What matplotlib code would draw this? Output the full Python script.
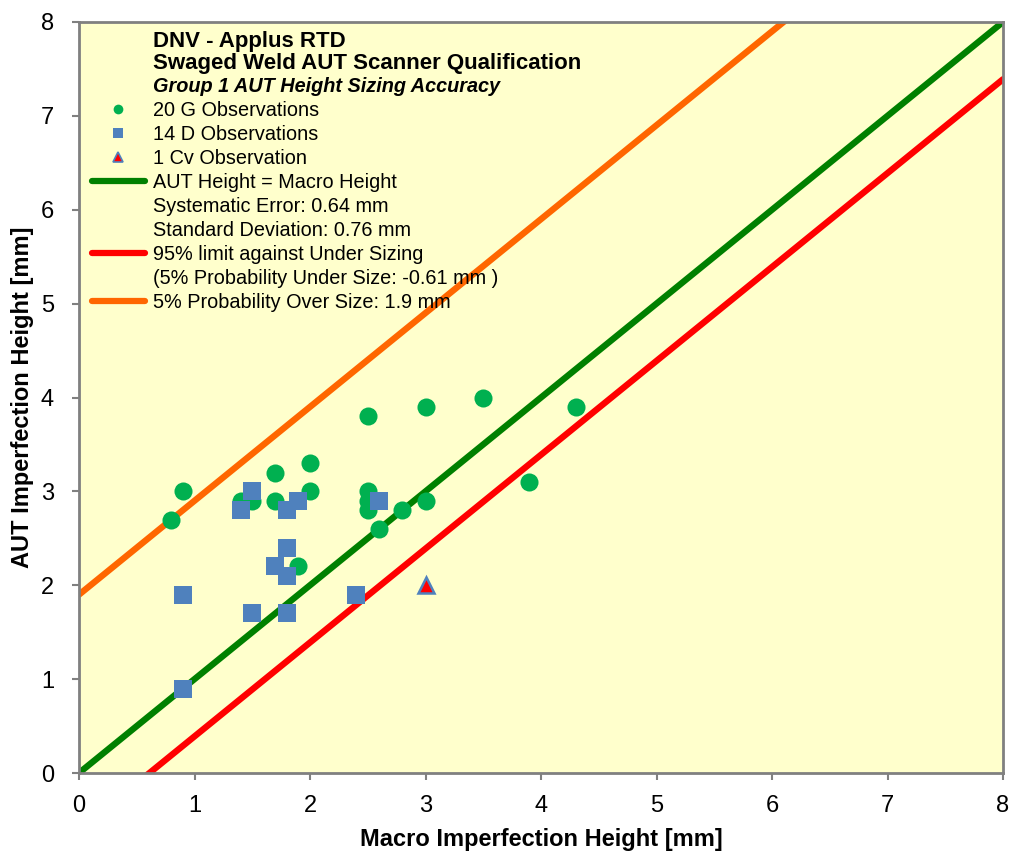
import matplotlib
matplotlib.use("Agg")
import matplotlib.pyplot as plt
from matplotlib.lines import Line2D
import numpy as np

plt.rcParams['font.family'] = ['Liberation Sans', 'DejaVu Sans']

# G observations (macro height, AUT height) in mm
g_macro = [0.8, 0.9, 1.4, 1.5, 1.7, 1.7, 2.0, 2.0, 1.9, 2.5,
           2.5, 2.5, 2.5, 2.6, 2.8, 3.0, 3.0, 3.5, 3.9, 4.3]
g_aut = [2.7, 3.0, 2.9, 2.9, 3.2, 2.9, 3.3, 3.0, 2.2, 3.8,
         3.0, 2.9, 2.8, 2.6, 2.8, 3.9, 2.9, 4.0, 3.1, 3.9]

# D observations
d_macro = [0.9, 0.9, 1.4, 1.5, 1.5, 1.7, 1.8, 1.8, 1.8, 1.8, 1.8, 1.9, 2.4, 2.6]
d_aut = [1.9, 0.9, 2.8, 3.0, 1.7, 2.2, 2.8, 2.4, 2.1, 1.7, 1.7, 2.9, 1.9, 2.9]

# Cv observation
cv_macro = [3.0]
cv_aut = [2.0]

# Sizing statistics (mm)
under_size_offset = -0.61
over_size_offset = 1.9
systematic_error = 0.64
standard_deviation = 0.76

axis_range = [0, 8]

fig = plt.figure(figsize=(10.10, 8.56), dpi=100)
ax = fig.add_axes([79 / 1010, 1 - 773 / 856, (1003 - 79) / 1010, (773 - 22) / 856])
ax.set_facecolor('#FFFFCC')

x_line = np.array(axis_range, dtype=float)
ax.plot(x_line, x_line, color='#008000', lw=4.6, solid_capstyle='round', zorder=2)
ax.plot(x_line, x_line + under_size_offset, color='#FF0000', lw=4.6, solid_capstyle='round', zorder=2)
ax.plot(x_line, x_line + over_size_offset, color='#FF6600', lw=4.6, solid_capstyle='round', zorder=2)

ax.plot(g_macro, g_aut, 'o', color='#00B050', ms=13, mew=0, zorder=3)
ax.plot(d_macro, d_aut, 's', color='#4F81BD', ms=13.5, mew=0, zorder=4)
ax.plot(cv_macro, cv_aut, '^', mfc='#FF0000', mec='#4F81BD', mew=1.8, ms=12, zorder=5)

ax.set_xlim(axis_range)
ax.set_ylim(axis_range)
ax.set_xticks(range(0, 9))
ax.set_yticks(range(0, 9))
ax.tick_params(direction='out', length=5, width=1.5, color='#808080', labelsize=17)
ax.tick_params(axis='x', pad=11)
ax.tick_params(axis='y', pad=13)
for sp in ax.spines.values():
    sp.set_color('#808080')
    sp.set_linewidth(2)

ax.set_xlabel('Macro Imperfection Height [mm]', fontsize=17, fontweight='bold', labelpad=8)
ax.set_ylabel('AUT Imperfection Height [mm]', fontsize=17, fontweight='bold', labelpad=5)

# Title block
fig.text(153 / 1010, 1 - 42 / 856, 'DNV - Applus RTD', fontsize=16,
         fontweight='bold', va='center', ha='left')
fig.text(153 / 1010, 1 - 64 / 856, 'Swaged Weld AUT Scanner Qualification', fontsize=16,
         fontweight='bold', va='center', ha='left')
fig.text(153 / 1010, 1 - 87 / 856, 'Group 1 AUT Height Sizing Accuracy', fontsize=14.3,
         fontweight='bold', fontstyle='italic', va='center', ha='left')

blank = Line2D([], [], linestyle='none', marker=None)
handles = [
    Line2D([], [], linestyle='none', marker='o', color='#00B050', ms=7, mew=0),
    Line2D([], [], linestyle='none', marker='s', color='#4F81BD', ms=7.5, mew=0),
    Line2D([], [], linestyle='none', marker='^', mfc='#FF0000', mec='#4F81BD', mew=1.2, ms=7),
    Line2D([], [], color='#008000', lw=4.5, solid_capstyle='round'),
    blank,
    blank,
    Line2D([], [], color='#FF0000', lw=4.5, solid_capstyle='round'),
    blank,
    Line2D([], [], color='#FF6600', lw=4.5, solid_capstyle='round'),
]
labels = [
    '20 G Observations',
    '14 D Observations',
    '1 Cv Observation',
    'AUT Height = Macro Height',
    f'Systematic Error: {systematic_error:.2f} mm',
    f'Standard Deviation: {standard_deviation:.2f} mm',
    '95% limit against Under Sizing',
    f'(5% Probability Under Size: {under_size_offset:.2f} mm )',
    f'5% Probability Over Size: {over_size_offset:.1f} mm',
]
leg = fig.legend(handles, labels, loc='upper left',
                 bbox_to_anchor=(92 / 1010, 1 - 101 / 856),
                 frameon=False, fontsize=14.3, handlelength=2.65, handletextpad=0.4,
                 labelspacing=0.25, borderpad=0, borderaxespad=0, markerfirst=True)

fig.savefig('out.png', dpi=100, facecolor='white')
